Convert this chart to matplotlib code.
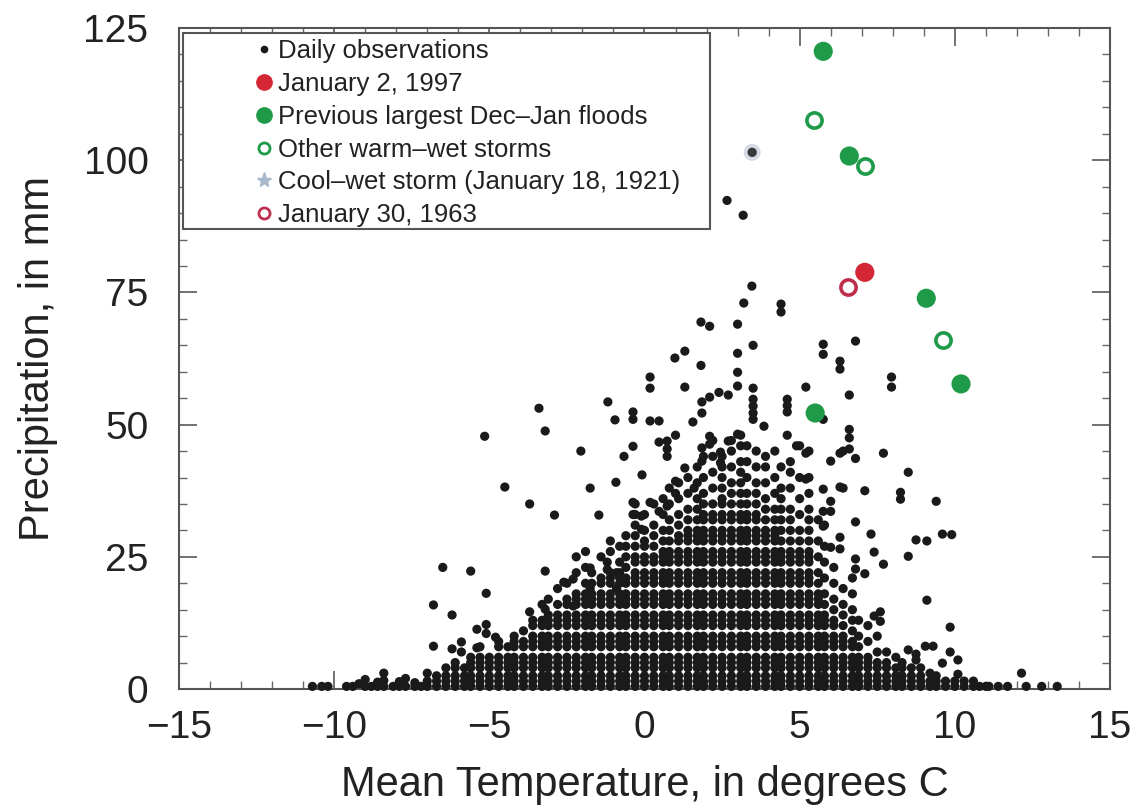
import matplotlib
matplotlib.use('Agg')
import matplotlib.pyplot as plt
from matplotlib.lines import Line2D
from matplotlib.patches import Rectangle
from matplotlib.ticker import MultipleLocator

plt.rcParams['font.family'] = ['Liberation Sans', 'DejaVu Sans']
plt.rcParams['axes.unicode_minus'] = True

# ---------------------------------------------------------------------------
# daily observations, dense cloud read column by column
# (mean temperature in deg C, precipitation values in mm)
# ---------------------------------------------------------------------------
col_temp = [-7.0, -6.7, -6.4, -6.1, -5.8, -5.6, -5.3, -5.0, -4.7, -4.4,
            -4.2, -3.9, -3.6, -3.3, -3.1, -2.8, -2.5, -2.2, -1.9, -1.7,
            -1.4, -1.1, -0.8, -0.6, -0.3, 0.0, 0.3, 0.6, 0.8, 1.1,
            1.4, 1.7, 1.9, 2.2, 2.5, 2.8, 3.1, 3.3, 3.6, 3.9,
            4.2, 4.4, 4.7, 5.0, 5.3, 5.6, 5.8, 6.1, 6.4, 6.7,
            6.9, 7.2, 7.5, 7.8, 8.1, 8.3, 8.6, 8.9, 9.2, 9.4,
            9.7, 10.0, 10.3, 10.6, 10.8, 11.1, 11.4]
col_precip = [
    "0.5 1.5 3",
    "0.5 1.5 2.5",
    "0.5 1.5 2.5 4",
    "0.5 1.5 2.5 4 5",
    "0.5 1.5 2.5 4",
    "0.5 1.5 2.5 4 5 6",
    "0.5 1.5 2.5 4 5 6 8",
    "0.5 1.5 2.5 4 5 6",
    "0.5 1.5 2.5 4 5 6 8 9",
    "0.5 1.5 2.5 4 5 6 8",
    "0.5 1.5 2.5 4 5 6 8 9 10",
    "0.5 1.5 2.5 4 5 6 8 9 11",
    "0.5 1.5 2.5 4 5 6 8 9 10 12 13",
    "0.5 1.5 2.5 4 5 6 8 9 10 12 13 16",
    "0.5 1.5 2.5 4 5 6 8 9 10 12 13 14 17",
    "0.5 1.5 2.5 4 5 6 8 9 10 12 13 14 16 19",
    "0.5 1.5 2.5 4 5 6 8 9 10 12 13 14 16 17 20",
    "0.5 1.5 2.5 4 5 6 8 9 10 12 13 14 16 17 18 22 25",
    "0.5 1.5 2.5 4 5 6 8 9 10 12 13 14 16 17 18 20 23 26",
    "0.5 1.5 2.5 4 5 6 8 9 10 12 13 14 16 17 18 20 22",
    "0.5 1.5 2.5 4 5 6 8 9 10 12 13 14 16 17 18 20 21 25",
    "0.5 1.5 2.5 4 5 6 8 9 10 12 13 14 16 17 18 20 21 22 26 28",
    "0.5 1.5 2.5 4 5 6 8 9 10 12 13 14 16 17 18 20 21 22 24 27",
    "0.5 1.5 2.5 4 5 6 8 9 10 12 13 14 16 17 18 20 21 23 25 27 29",
    "0.5 1.5 2.5 4 5 6 8 9 10 12 13 14 16 17 18 20 21 22 24 25 27 29 31 33 35",
    "0.5 1.5 2.5 4 5 6 8 9 10 12 13 14 16 17 18 20 21 22 24 25 27 28 30 33",
    "0.5 1.5 2.5 4 5 6 8 9 10 12 13 14 16 17 18 20 21 22 24 25 27 29 31 35",
    "0.5 1.5 2.5 4 5 6 8 9 10 12 13 14 16 17 18 20 21 22 24 25 26 28 30 33 36",
    "0.5 1.5 2.5 4 5 6 8 9 10 12 13 14 16 17 18 20 21 22 24 25 26 28 30 32 35 38",
    "0.5 1.5 2.5 4 5 6 8 9 10 12 13 14 16 17 18 20 21 22 24 25 26 28 29 31 33 36 39",
    "0.5 1.5 2.5 4 5 6 8 9 10 12 13 14 16 17 18 20 21 22 24 25 26 28 29 30 32 34 37 40",
    "0.5 1.5 2.5 4 5 6 8 9 10 12 13 14 16 17 18 20 21 22 24 25 26 28 29 30 32 34 36 39 42",
    "0.5 1.5 2.5 4 5 6 8 9 10 12 13 14 16 17 18 20 21 22 24 25 26 28 29 30 32 33 35 37 40 44",
    "0.5 1.5 2.5 4 5 6 8 9 10 12 13 14 16 17 18 20 21 22 24 25 26 28 29 30 32 33 35 38 41 44 47",
    "0.5 1.5 2.5 4 5 6 8 9 10 12 13 14 16 17 18 20 21 22 24 25 26 28 29 30 32 33 35 36 38 40 42 44",
    "0.5 1.5 2.5 4 5 6 8 9 10 12 13 14 16 17 18 20 21 22 24 25 26 28 29 30 32 33 35 37 39 42 45 47",
    "0.5 1.5 2.5 4 5 6 8 9 10 12 13 14 16 17 18 20 21 22 24 25 26 28 29 30 32 33 35 37 39 41 43 46 48",
    "0.5 1.5 2.5 4 5 6 8 9 10 12 13 14 16 17 18 20 21 22 24 25 26 28 29 30 32 33 35 37 40 43 46",
    "0.5 1.5 2.5 4 5 6 8 9 10 12 13 14 16 17 18 20 21 22 24 25 26 28 29 30 32 33 35 37 39 42 45",
    "0.5 1.5 2.5 4 5 6 8 9 10 12 13 14 16 17 18 20 21 22 24 25 26 28 29 30 32 34 36 39 42 44",
    "0.5 1.5 2.5 4 5 6 8 9 10 12 13 14 16 17 18 20 21 22 24 25 26 28 29 30 32 34 37 40 45",
    "0.5 1.5 2.5 4 5 6 8 9 10 12 13 14 16 17 18 20 21 22 24 25 26 28 30 32 34 36 38 42",
    "0.5 1.5 2.5 4 5 6 8 9 10 12 13 14 16 17 18 20 21 22 24 25 26 28 30 32 34 38 41 43",
    "0.5 1.5 2.5 4 5 6 8 9 10 12 13 14 16 17 18 20 21 22 24 25 26 28 30 33 36 40 46",
    "0.5 1.5 2.5 4 5 6 8 9 10 12 13 14 16 17 18 20 21 22 24 25 26 28 30 32 34 37 40 45",
    "0.5 1.5 2.5 4 5 6 8 9 10 12 13 14 16 17 18 20 22 25 28 32",
    "0.5 1.5 2.5 4 5 6 8 9 10 12 13 14 16 18 21 24 27 31",
    "0.5 1.5 2.5 4 5 6 8 9 10 12 13 15 17 20 23",
    "0.5 1.5 2.5 4 5 6 8 9 10 12 14 16 19 38 45",
    "0.5 1.5 2.5 4 5 6 8 9 11 13 15 18 21",
    "0.5 1.5 2.5 4 5 6 8 10 13",
    "0.5 1.5 2.5 4 5 6 9 12",
    "0.5 1.5 2.5 4 5 7 10",
    "0.5 1.5 2.5 4 5 7",
    "0.5 1.5 2.5 4 6",
    "0.5 1.5 2.5 4 5",
    "0.5 1.5 2.5 4",
    "0.5 1.5 2.5 4",
    "0.5 1.5 3",
    "0.5 1.5 2.5",
    "0.5 1.5",
    "0.5 1.5",
    "0.5 1.5",
    "0.5 1.5",
    "0.5",
    "0.5",
    "0.5",
]

# scattered daily observations outside the dense cloud
scat_temp = [
    -10.7, -10.4, -10.2, -9.6, -9.4, -9.2, -9.0, -9.0, -8.8, -8.6,
    -8.6, -8.4, -8.4, -8.4, -8.1, -7.9, -7.9, -7.7, -7.7, -7.4,
    -7.4, -7.2, -6.8, -6.8, -6.5, -6.2, -6.2, -5.9, -5.9, -5.6,
    -5.4, -5.4, -5.1, -5.1, -5.1, -4.8, -5.15, -4.5, -3.7, -3.7,
    -3.4, -3.2, -3.2, -3.2, -2.9, -2.6, -2.3, -2.3, -2.05, -1.75,
    -1.75, -1.75, -1.47, -1.2, -1.2, -1.18, -0.95, -0.92, -0.9, -0.9,
    -0.66, -0.37, -0.37, -0.37, -0.37, -0.37, -0.1, -0.1, -0.08, 0.18,
    0.18, 0.18, 0.18, 0.47, 0.47, 0.47, 0.73, 0.73, 0.73, 0.73,
    1.0, 1.0, 1.0, 0.98, 1.3, 1.3, 1.3, 1.56, 1.6, 1.82,
    1.82, 1.85, 1.85, 1.85, 1.85, 2.1, 2.1, 2.1, 2.1, 2.4,
    2.45, 2.45, 2.66, 2.7, 2.7, 3.0, 3.0, 3.0, 3.0, 3.0,
    3.18, 3.2, 3.46, 3.5, 3.5, 3.5, 3.5, 3.5, 3.5, 3.85,
    4.4, 4.4, 4.6, 4.6, 4.6, 4.6, 4.9, 5.2, 5.2, 5.2,
    5.76, 5.76, 5.76, 5.76, 5.76, 5.76, 6.0, 6.0, 6.0, 6.0,
    6.3, 6.3, 6.3, 6.3, 6.3, 6.3, 6.6, 6.6, 6.6, 6.6,
    6.8, 6.8, 6.8, 6.8, 6.8, 7.1, 7.1, 7.3, 7.4, 7.4,
    7.6, 7.6, 7.7, 7.7, 7.96, 7.96, 8.25, 8.25, 8.5, 8.5,
    8.5, 8.75, 8.75, 8.75, 9.05, 9.1, 9.1, 9.3, 9.4, 9.6,
    9.6, 9.85, 9.85, 9.9, 10.1, 10.1, 11.0, 11.7, 12.15, 12.3,
    12.8, 13.3]
scat_precip = [
    0.5, 0.5, 0.5, 0.5, 0.5, 1.0, 0.5, 1.8, 0.5, 0.5,
    1.3, 0.5, 1.6, 3.0, 0.5, 0.5, 1.4, 0.5, 2.0, 0.5,
    1.2, 0.5, 8.1, 15.9, 23.0, 14.0, 7.6, 8.9, 7.0, 22.3,
    11.3, 7.8, 18.1, 10.5, 12.2, 9.8, 47.8, 38.2, 35.0, 14.6,
    53.1, 48.8, 22.3, 15.1, 32.9, 20.2, 20.8, 15.7, 45.0, 38.0,
    22.9, 19.0, 32.9, 24.0, 22.6, 54.3, 50.9, 39.1, 22.0, 19.0,
    44.0, 52.4, 51.0, 45.9, 35.3, 33.0, 32.7, 30.2, 40.5, 59.0,
    56.9, 50.7, 35.3, 50.7, 46.7, 33.6, 46.9, 45.4, 44.0, 34.6,
    48.0, 39.3, 37.0, 62.6, 63.9, 57.1, 41.8, 50.5, 38.0, 69.4,
    61.2, 54.3, 52.2, 45.6, 43.1, 68.6, 55.2, 47.8, 46.3, 56.1,
    44.8, 42.8, 92.4, 55.6, 46.9, 69.0, 63.5, 59.9, 57.3, 48.2,
    89.6, 73.0, 76.2, 65.0, 56.9, 54.8, 53.5, 52.2, 51.0, 49.7,
    72.8, 71.3, 54.8, 53.6, 52.4, 48.0, 46.0, 57.1, 44.6, 39.7,
    65.2, 63.3, 51.0, 37.8, 33.6, 30.8, 43.1, 35.5, 33.6, 26.8,
    62.0, 60.5, 44.6, 38.2, 28.7, 26.5, 55.6, 49.1, 47.5, 45.4,
    65.8, 43.6, 31.6, 24.6, 22.7, 37.5, 21.8, 29.3, 25.9, 13.8,
    14.6, 12.8, 44.6, 23.6, 59.0, 57.1, 37.2, 35.9, 41.0, 25.1,
    7.4, 28.2, 6.6, 5.5, 8.1, 16.8, 28.0, 8.1, 35.5, 29.3,
    4.9, 11.7, 7.0, 29.2, 5.5, 2.8, 0.5, 0.5, 3.0, 0.5,
    0.5, 0.5]

# highlighted storms
jan1997_temp = [7.1]
jan1997_precip = [78.8]
flood_temp = [5.76, 6.6, 9.08, 10.2, 5.5]
flood_precip = [120.6, 100.8, 73.9, 57.7, 52.2]
warm_temp = [5.46, 7.1, 9.63]
warm_precip = [107.6, 98.9, 66.0]
cool_temp = [3.47]
cool_precip = [101.5]
jan1963_temp = [6.56]
jan1963_precip = [76.0]

labels = ['Daily observations', 'January 2, 1997', 'Previous largest Dec\u2013Jan floods',
          'Other warm\u2013wet storms', 'Cool\u2013wet storm (January 18, 1921)',
          'January 30, 1963']

# flatten the column data
obs_t = []
obs_p = []
for t, s in zip(col_temp, col_precip):
    vals = [float(v) for v in s.split()]
    obs_t += [t] * len(vals)
    obs_p += vals
obs_t += scat_temp
obs_p += scat_precip

RED = '#d42634'
GREEN = '#1e9a48'
TXT = '#222222'

fig = plt.figure(figsize=(11.43, 8.11), dpi=100)
ax = fig.add_axes([0.1566, 0.1504, 0.8145, 0.815])

ax.scatter(obs_t, obs_p, s=44, color='#1a1a1a', edgecolors='none', zorder=3, clip_on=False)

ax.scatter(cool_temp, cool_precip, s=150, color='#d6dae2', edgecolors='none', zorder=4)
ax.scatter(cool_temp, cool_precip, s=45, color='#383838', edgecolors='none', zorder=5)
ax.scatter(flood_temp, flood_precip, s=190, color=GREEN, edgecolors='none', zorder=6)
ax.scatter(warm_temp, warm_precip, s=120, facecolors='white', edgecolors=GREEN,
           linewidths=2.6, zorder=6)
ax.scatter(jan1997_temp, jan1997_precip, s=190, color=RED, edgecolors='none', zorder=6)
ax.scatter(jan1963_temp, jan1963_precip, s=120, facecolors='white', edgecolors='#bd2f4d',
           linewidths=2.6, zorder=6)

ax.set_xlim(-15, 15)
ax.set_ylim(0, 125)
ax.xaxis.set_major_locator(MultipleLocator(5))
ax.xaxis.set_minor_locator(MultipleLocator(1))
ax.yaxis.set_major_locator(MultipleLocator(25))
ax.yaxis.set_minor_locator(MultipleLocator(5))
ax.tick_params(which='both', direction='in', top=True, right=True, colors='#666666',
               labelcolor=TXT, labelsize=28)
ax.tick_params(which='major', length=13, width=1.3)
ax.tick_params(which='minor', length=6, width=1.0)
ax.tick_params(axis='y', pad=22)
ax.tick_params(axis='x', pad=15)
for sp in ax.spines.values():
    sp.set_color('#555555')
    sp.set_linewidth(1.5)

ax.set_xlabel('Mean Temperature, in degrees C', fontsize=30, color=TXT, va='top')
ax.xaxis.set_label_coords(0.5, -0.115)
ax.set_ylabel('Precipitation, in mm', fontsize=30, color=TXT)
ax.yaxis.set_label_coords(-0.13, 0.5)

# legend with a separate frame
handles = [
    Line2D([], [], ls='none', marker='o', ms=4.5, color='#1a1a1a'),
    Line2D([], [], ls='none', marker='o', ms=11, color=RED),
    Line2D([], [], ls='none', marker='o', ms=11, color=GREEN),
    Line2D([], [], ls='none', marker='o', ms=8, mfc='white', mec=GREEN, mew=2),
    Line2D([], [], ls='none', marker='*', ms=11, color='#a9b8cc'),
    Line2D([], [], ls='none', marker='o', ms=8, mfc='white', mec='#bd2f4d', mew=2),
]
leg = ax.legend(handles, labels, loc='upper left', bbox_to_anchor=(0.076, 0.983),
                frameon=False, fontsize=18.5, handlelength=1.1, handletextpad=0.0,
                borderpad=0, borderaxespad=0, labelspacing=0.34)
for t in leg.get_texts():
    t.set_color(TXT)
ax.add_patch(Rectangle((0.0043, 0.696), 0.566, 0.296, transform=ax.transAxes,
                       fill=True, facecolor='white', edgecolor='#555555', lw=1.5, zorder=7))
leg.set_zorder(8)

fig.savefig('out.png', dpi=100)
